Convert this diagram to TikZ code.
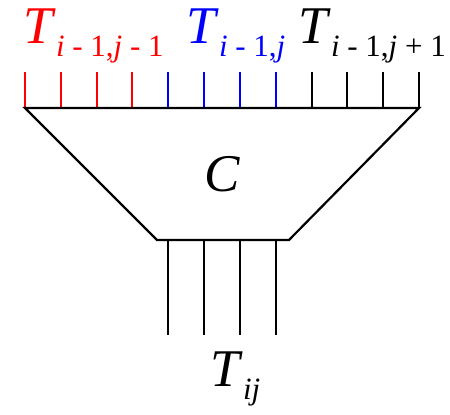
\documentclass[tikz,border=0pt]{standalone}
\usepackage{fontspec}
\setmainfont{Liberation Serif}

\newcommand{\Tsub}[1]{\textit{T}\raisebox{-6.5pt}{\fontsize{15.5}{15.5}\selectfont #1}}

\begin{document}
\begin{tikzpicture}[x=0.5pt, y=-0.5pt]
	% Define styles
	\tikzstyle{tlabel} = [anchor=base west, inner sep=0pt, font=\fontsize{26.5}{26.5}\selectfont]
	\tikzstyle{tick} = [line width=1pt]
	\tikzstyle{funnel} = [line width=1.1pt, line join=miter]

	\useasboundingbox (0,0) rectangle (450,415);

	% Nodes
	\node[tlabel, text=red] (prev) at (23,44) {\Tsub{\textit{i} - 1,\textit{j} - 1}};
	\node[tlabel, text=blue] (cur) at (186,44) {\Tsub{\textit{i} - 1,\textit{j}}};
	\node[tlabel] (next) at (298,44) {\Tsub{\textit{i} - 1,\textit{j} + 1}};
	\node[tlabel, anchor=base] (comb) at (222,192) {\textit{C}};
	\node[tlabel] (out) at (210,387) {\Tsub{\textit{ij}}};

	% Corners of the funnel
	\coordinate (tl) at (25,108);
	\coordinate (tr) at (419,108);
	\coordinate (br) at (289,240);
	\coordinate (bl) at (157,240);

	% Input ticks
	\foreach \k/\col in {0/red,1/red,2/red,3/red,4/blue,5/blue,6/blue,7/blue,8/black,9/black,10/black,11/black}
		\draw[tick, \col] (25+\k*35.82,72) -- (25+\k*35.82,108);

	% Funnel
	\draw[funnel] (tl) -- (tr) -- (br) -- (bl) -- cycle;

	% Output lines
	\foreach \k in {4,5,6,7}
		\draw[tick] (25+\k*35.82,240) -- (25+\k*35.82,335);
\end{tikzpicture}
\end{document}
